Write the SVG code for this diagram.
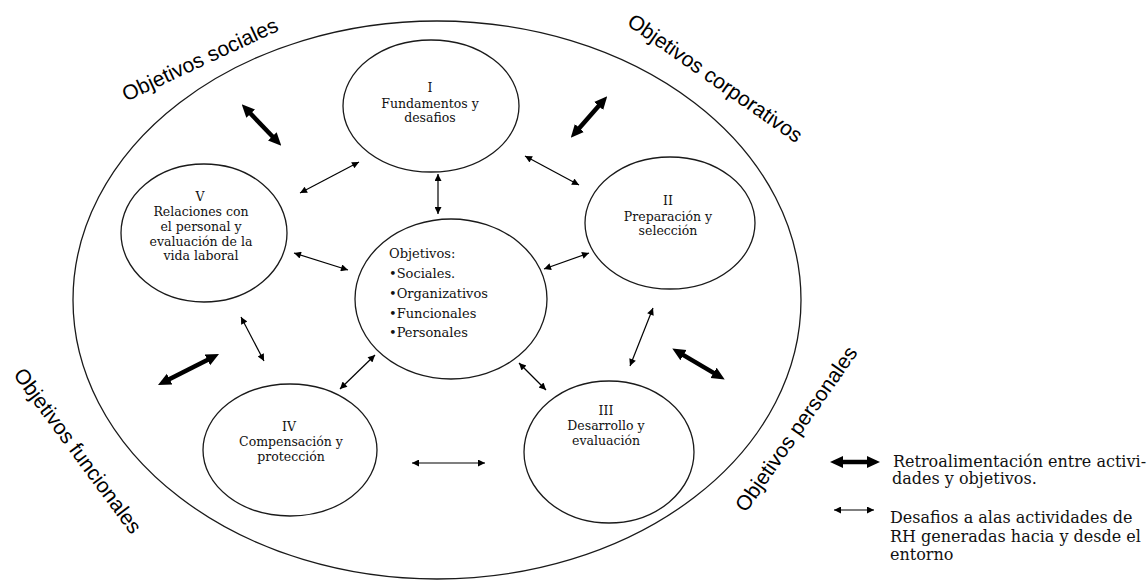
<svg xmlns="http://www.w3.org/2000/svg" width="1148" height="581" viewBox="0 0 1148 581">
<style>
.c{fill:none;stroke:#1a1a1a;stroke-width:1.3}
.t{font-family:"DejaVu Serif","Liberation Serif",serif;font-size:12.5px;fill:#111;text-anchor:middle}
.tl{font-family:"DejaVu Serif","Liberation Serif",serif;font-size:13px;fill:#111}
.lg{font-family:"DejaVu Serif","Liberation Serif",serif;font-size:16px;fill:#111}
.o{font-family:"Liberation Sans",Arial,sans-serif;font-size:21px;fill:#000;text-anchor:middle}
.a{fill:none;stroke:#000;stroke-width:1.2;marker-start:url(#ta);marker-end:url(#ta)}
.b{fill:none;stroke:#000;stroke-width:4.5;marker-start:url(#tb);marker-end:url(#tb)}
</style>
<defs>
<marker id="ta" viewBox="0 0 10 10" refX="10" refY="5" markerWidth="9" markerHeight="7" markerUnits="userSpaceOnUse" orient="auto-start-reverse"><path d="M0,0 L10,5 L0,10 z" fill="#000"/></marker>
<marker id="tb" viewBox="0 0 13 12" refX="1" refY="6" markerWidth="13" markerHeight="13" markerUnits="userSpaceOnUse" orient="auto-start-reverse"><path d="M0,0 L13,6 L0,12 z" fill="#000"/></marker>
</defs>
<rect width="1148" height="581" fill="#fff"/>
<g id="outer"><ellipse class="c" cx="437" cy="300" rx="364" ry="279"/></g>
<g id="labels">
<text class="o" transform="translate(203,66) rotate(-25)">Objetivos sociales</text>
<text class="o" transform="translate(711,84) rotate(35)">Objetivos corporativos</text>
<text class="o" transform="translate(72,455) rotate(53.5)">Objetivos funcionales</text>
<text class="o" transform="translate(802,433) rotate(-55)">Objetivos personales</text>
</g>
<g id="node-I"><ellipse class="c" cx="431" cy="106" rx="88" ry="66"/>
<text class="t" x="430" y="92">I</text><text class="t" x="430" y="107.5">Fundamentos y</text><text class="t" x="430" y="122">desafios</text></g>
<g id="node-II"><ellipse class="c" cx="670" cy="223" rx="85" ry="66"/>
<text class="t" x="668" y="205">II</text><text class="t" x="668" y="221">Preparación y</text><text class="t" x="668" y="235">selección</text></g>
<g id="node-III"><ellipse class="c" cx="609" cy="452" rx="85" ry="71"/>
<text class="t" x="606" y="415">III</text><text class="t" x="606" y="430">Desarrollo y</text><text class="t" x="606" y="445">evaluación</text></g>
<g id="node-IV"><ellipse class="c" cx="290" cy="450" rx="87" ry="66"/>
<text class="t" x="289" y="431">IV</text><text class="t" x="291" y="446">Compensación y</text><text class="t" x="291" y="461">protección</text></g>
<g id="node-V"><ellipse class="c" cx="204" cy="233" rx="83" ry="69"/>
<text class="t" x="200" y="201">V</text><text class="t" x="201" y="216">Relaciones con</text><text class="t" x="201" y="231">el personal y</text><text class="t" x="201" y="245.5">evaluación de la</text><text class="t" x="201" y="260">vida laboral</text></g>
<g id="node-center"><ellipse class="c" cx="451" cy="299" rx="96" ry="80"/>
<text class="tl" x="389" y="258">Objetivos:</text>
<text class="tl" x="389" y="277.5">•Sociales.</text>
<text class="tl" x="389" y="297.5">•Organizativos</text>
<text class="tl" x="389" y="317.5">•Funcionales</text>
<text class="tl" x="389" y="336.5">•Personales</text></g>
<g id="connectors">
<line class="a" x1="300" y1="193" x2="359" y2="162"/>
<line class="a" x1="438" y1="174" x2="438" y2="214"/>
<line class="a" x1="525" y1="156" x2="579" y2="185"/>
<line class="a" x1="294" y1="253" x2="348" y2="270"/>
<line class="a" x1="544" y1="269" x2="589" y2="253"/>
<line class="a" x1="241" y1="317" x2="264" y2="361"/>
<line class="a" x1="653" y1="308" x2="630" y2="366"/>
<line class="a" x1="340" y1="389" x2="375" y2="355"/>
<line class="a" x1="519" y1="363" x2="546" y2="390"/>
<line class="a" x1="412" y1="463" x2="485" y2="463"/>
<line class="b" x1="250" y1="113" x2="273" y2="137"/>
<line class="b" x1="599.3" y1="105.3" x2="578.7" y2="128.7"/>
<line class="b" x1="208.3" y1="359.4" x2="168.7" y2="379.6"/>
<line class="b" x1="682.6" y1="354.6" x2="714.4" y2="373.4"/>
</g>
<g id="legend">
<line class="b" x1="842" y1="462" x2="868" y2="462"/>
<line class="a" x1="834" y1="510" x2="874" y2="510"/>
<text class="lg" x="893" y="467">Retroalimentación entre activi-</text>
<text class="lg" x="892" y="484">dades y objetivos.</text>
<text class="lg" x="890" y="523">Desafios a alas actividades de</text>
<text class="lg" x="890" y="542">RH generadas hacia y desde el</text>
<text class="lg" x="890" y="560">entorno</text>
</g>
</svg>
